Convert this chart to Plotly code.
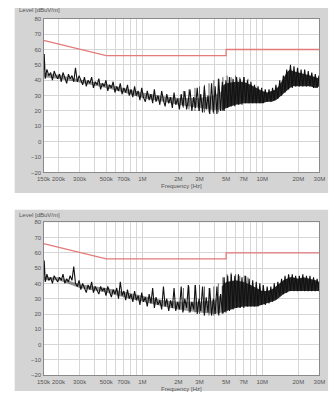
import plotly.graph_objects as go

# Receiver sweep grid (kHz), shared by both scans
sweep_khz = [
    150, 152, 155, 160, 166, 172, 178, 184, 190, 197, 204, 211, 218, 226, 234, 242,
    250, 259, 268, 277, 287, 297, 307, 318, 329, 341, 353, 365, 378, 391, 405, 419,
    434, 449, 465, 481, 498, 515, 533, 552, 571, 591, 612, 633, 655, 678, 702, 727,
    752, 778, 805, 833, 862, 892, 923, 955, 989, 1020, 1060, 1100, 1140, 1180, 1220,
    1260, 1300, 1350, 1400, 1450, 1500, 1550, 1600, 1660, 1720, 1780, 1840, 1900,
    1970, 2040, 2110, 2180, 2260, 2340, 2420, 2500, 2590, 2680, 2770, 2870, 2970,
    3070, 3180, 3290, 3410, 3530, 3650, 3780, 3910, 4050, 4190, 4340, 4490, 4650,
    4810, 4980, 5150, 5330, 5520, 5710, 5910, 6120, 6330, 6550, 6780, 7020, 7270,
    7520, 7780, 8050, 8330, 8620, 8920, 9230, 9550, 9890, 10200, 10600, 11000,
    11400, 11800, 12200, 12600, 13000, 13500, 14000, 14500, 15000, 15500, 16000,
    16600, 17200, 17800, 18400, 19000, 19700, 20400, 21100, 21800, 22600, 23400,
    24200, 25000, 25900, 26800, 27700, 28700, 29700, 30000,
]

# Measured level, first scan (dBuV/m)
level_scan1 = [
    44, 57, 41, 47, 43, 45, 40, 46, 43, 41, 44, 39, 45, 42, 38, 44,
    41, 43, 39, 48, 39, 43, 40, 37, 42, 36, 40, 38, 42, 35, 39, 37,
    41, 34, 38, 36, 40, 33, 37, 35, 39, 32, 36, 33, 38, 31, 35, 32,
    37, 30, 34, 29, 36, 30, 33, 27, 35, 29, 26, 33, 27, 31, 25,
    34, 26, 30, 24, 33, 27, 23, 31, 25, 29, 22, 32, 24,
    28, 21, 31, 23, 33, 21, 27, 34, 20, 29, 22, 35, 20,
    31, 19, 36, 21, 30, 18, 38, 19, 36, 18, 41, 20, 39,
    20, 40, 22, 42, 23, 41, 23, 42, 24, 41, 24, 42, 25,
    40, 25, 39, 25, 37, 25, 36, 25, 35, 25, 34, 26,
    34, 26, 35, 27, 37, 28, 40, 30, 43, 32, 47,
    34, 50, 35, 49, 36, 48, 36, 47, 36, 47, 36,
    46, 36, 45, 35, 44, 35, 43, 38,
]

# Measured level, second scan (dBuV/m)
level_scan2 = [
    43, 55, 41, 46, 42, 44, 40, 45, 43, 41, 44, 42, 46, 40, 43, 41,
    45, 42, 51, 40, 38, 42, 36, 40, 37, 34, 39, 36, 41, 34, 38, 36,
    33, 38, 35, 37, 32, 38, 34, 31, 36, 33, 37, 30, 41, 32, 35, 29,
    36, 30, 33, 28, 35, 29, 32, 26, 34, 28, 31, 25, 33, 27, 37,
    24, 31, 26, 29, 23, 38, 25, 30, 22, 29, 24, 37, 22,
    28, 23, 38, 21, 30, 24, 39, 21, 28, 23, 39, 20, 30,
    22, 38, 19, 31, 21, 37, 19, 30, 20, 38, 19, 33, 21,
    44, 21, 45, 22, 46, 23, 45, 24, 46, 24, 44, 24, 45,
    25, 43, 25, 42, 25, 41, 25, 40, 26, 39, 26, 38,
    27, 38, 28, 40, 30, 41, 32, 43, 33, 45, 34,
    46, 35, 46, 35, 45, 35, 45, 35, 46, 35, 45,
    35, 45, 35, 44, 35, 43, 35, 40,
]

# Noise floor core below 4.6 MHz: frequency (MHz), lower / upper level
core_mhz = [0.15, 0.2, 0.3, 0.5, 0.7, 1.0, 1.5, 2, 3, 4, 4.6]
core_lo_scan1 = [42, 41, 38.5, 35, 32, 28.5, 26, 24, 22, 20.5, 21]
core_hi_scan1 = [44.5, 43.5, 40.5, 37.5, 35, 32, 29.5, 28.5, 28.5, 30, 33]
core_lo_scan2 = [42, 42, 37, 34, 31, 28, 25, 23, 21, 20, 21]
core_hi_scan2 = [44, 44, 39.5, 37, 34.5, 32, 29, 28, 28, 29, 33]

# Dense emission band above 4.6 MHz: frequency (MHz), lower / upper level
band_mhz = [4.6, 5, 6, 7, 8, 9, 10, 11, 12, 13, 14, 15, 16, 17, 18, 20, 22, 25, 28, 30]
band_lo_scan1 = [20, 22, 24, 25, 25, 25, 25, 26, 26, 27, 29, 31, 33, 35, 36, 36, 36, 36, 35, 36]
band_hi_scan1 = [36, 38, 39, 39, 37, 35, 33, 32, 33, 34, 37, 41, 45, 47, 46, 45, 44, 43, 42, 41]
band_lo_scan2 = [20, 22, 24, 25, 25, 25, 26, 27, 28, 29, 31, 33, 34, 35, 35, 35, 35, 35, 35, 35]
band_hi_scan2 = [38, 41, 42, 41, 39, 37, 35, 35, 36, 38, 40, 42, 43, 44, 44, 43, 44, 43, 42, 41]

# Narrow harmonic spikes: frequency (MHz), floor, peak (dBuV/m)
spike_mhz = [2.2, 2.45, 2.75, 3.0, 3.3, 3.6, 3.95, 4.3, 4.7, 5.1, 5.5, 6.0, 6.5, 7.1, 7.6]
spike_lo_scan1 = [22, 21, 20, 20, 19, 19, 18, 19, 20, 22, 23, 24, 24, 25, 25]
spike_hi_scan1 = [33, 34, 35, 36, 37, 38, 40, 41, 42, 43, 42, 43, 42, 42, 41]
spike_lo_scan2 = [22, 21, 21, 20, 20, 19, 19, 20, 20, 22, 23, 24, 24, 25, 25]
spike_hi_scan2 = [37, 38, 39, 39, 38, 37, 38, 40, 44, 46, 47, 46, 45, 45, 44]

# Limit line (MHz, dBuV/m)
limit_mhz = [0.15, 0.5, 5, 5, 30]
limit_db = [66, 56, 56, 60, 60]

# Axis ticks
x_tick_mhz = [0.15, 0.2, 0.3, 0.4, 0.5, 0.6, 0.7, 0.8, 0.9, 1, 2, 3, 4, 5, 6, 7, 8, 9, 10, 20, 30]
x_tick_text = ["150k", "200k", "300k", "", "500k", "", "700k", "", "", "1M",
               "2M", "3M", "", "5M", "", "7M", "", "", "10M", "20M", "30M"]
y_ticks = [-20, -10, 0, 10, 20, 30, 40, 50, 60, 70, 80]

W, H = 336, 398
FONT = "Liberation Sans"
sweep_mhz = [f / 1000 for f in sweep_khz]


def add_band(fig, f, lo, hi, color, xa, ya):
    fig.add_trace(go.Scatter(
        x=f + f[::-1], y=hi + lo[::-1], fill="toself", fillcolor=color,
        mode="lines", line=dict(width=0), xaxis=xa, yaxis=ya,
        hoverinfo="skip", showlegend=False))


fig = go.Figure()

scans = [
    ("x", "y", level_scan1, core_lo_scan1, core_hi_scan1,
     band_lo_scan1, band_hi_scan1, spike_lo_scan1, spike_hi_scan1),
    ("x2", "y2", level_scan2, core_lo_scan2, core_hi_scan2,
     band_lo_scan2, band_hi_scan2, spike_lo_scan2, spike_hi_scan2),
]
for xa, ya, lev, clo, chi, blo, bhi, slo, shi in scans:
    add_band(fig, core_mhz, clo, chi, "rgba(20,20,20,0.45)", xa, ya)
    add_band(fig, band_mhz, blo, bhi, "rgba(10,10,10,0.88)", xa, ya)
    sx, sy = [], []
    for f, lo, hi in zip(spike_mhz, slo, shi):
        sx += [f, f, None]
        sy += [lo, hi, None]
    fig.add_trace(go.Scatter(
        x=sx, y=sy, mode="lines", line=dict(color="#3a3a3a", width=0.8),
        xaxis=xa, yaxis=ya, hoverinfo="skip", showlegend=False))
    fig.add_trace(go.Scatter(
        x=sweep_mhz, y=lev, mode="lines", line=dict(color="#111111", width=1.1),
        xaxis=xa, yaxis=ya, showlegend=False))
    fig.add_trace(go.Scatter(
        x=limit_mhz, y=limit_db, mode="lines", line=dict(color="#e47a7a", width=1.3),
        xaxis=xa, yaxis=ya, showlegend=False))

x_dom = [38 / W, 325 / W]
y_dom_top = [1 - 172 / H, 1 - 16 / H]
y_dom_bot = [1 - 378 / H, 1 - 222.5 / H]

xaxis_common = dict(
    type="log", range=[-0.8239, 1.4771], domain=x_dom,
    tickmode="array", tickvals=x_tick_mhz, ticktext=x_tick_text, tickangle=0,
    showgrid=True, gridcolor="#d6d6d6", gridwidth=1, zeroline=False,
    showline=True, linecolor="#8a8a8a", linewidth=1.2, mirror=True,
    ticks="", tickfont=dict(family=FONT, size=6, color="#555555"),
)
yaxis_common = dict(
    range=[-20, 80], tickmode="array", tickvals=y_ticks,
    showgrid=True, gridcolor="#d6d6d6", gridwidth=1, zeroline=False,
    showline=True, linecolor="#8a8a8a", linewidth=1.2, mirror=True,
    ticks="", tickfont=dict(family=FONT, size=6, color="#555555"),
)

fig.update_layout(
    width=W, height=H, margin=dict(l=0, r=0, t=0, b=0),
    paper_bgcolor="white", plot_bgcolor="white",
    xaxis=dict(xaxis_common, anchor="y"),
    yaxis=dict(yaxis_common, domain=y_dom_top, anchor="x"),
    xaxis2=dict(xaxis_common, anchor="y2"),
    yaxis2=dict(yaxis_common, domain=y_dom_bot, anchor="x2"),
    showlegend=False,
)

# Gray instrument panels with a white plotting area on top
panels = [(5, 193, 16, 172), (210, 394, 222.5, 378)]
shapes = []
for top, bot, ptop, pbot in panels:
    shapes.append(dict(type="rect", xref="paper", yref="paper", layer="below",
                       x0=8 / W, x1=334 / W, y0=1 - bot / H, y1=1 - top / H,
                       fillcolor="#d4d4d4", line=dict(width=0)))
    shapes.append(dict(type="rect", xref="paper", yref="paper", layer="below",
                       x0=x_dom[0], x1=x_dom[1], y0=1 - pbot / H, y1=1 - ptop / H,
                       fillcolor="white", line=dict(width=0)))
fig.update_layout(shapes=shapes)

annotations = []
for ylev, yfreq in [(7.5, 186), (215, 392)]:
    annotations.append(dict(text="Level [dBuV/m]", xref="paper", yref="paper",
                            x=10 / W, y=1 - ylev / H, xanchor="left", yanchor="middle",
                            showarrow=False, font=dict(family=FONT, size=6, color="#555555")))
    annotations.append(dict(text="Frequency [Hz]", xref="paper", yref="paper",
                            x=(x_dom[0] + x_dom[1]) / 2, y=1 - yfreq / H,
                            xanchor="center", yanchor="middle",
                            showarrow=False, font=dict(family=FONT, size=6, color="#555555")))
fig.update_layout(annotations=annotations)

fig.write_html("out.html")
